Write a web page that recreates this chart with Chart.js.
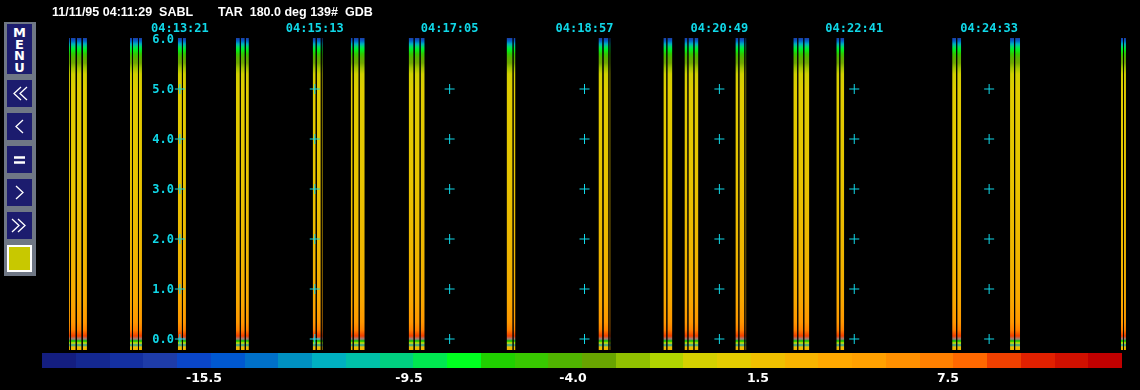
<!DOCTYPE html>
<html>
<head>
<meta charset="utf-8">
<script src="https://cdn.jsdelivr.net/npm/chart.js@4"></script>
<style>
  html, body { margin: 0; padding: 0; background: #000; }
  #wrap { position: relative; width: 1140px; height: 390px; overflow: hidden; background: #000; }
  #chartBox { position: absolute; left: 0; top: 0; width: 1140px; height: 390px; }
  .hdr { position: absolute; top: 5px; color: #fff; font: bold 12.5px 'Liberation Sans', Arial, sans-serif; white-space: pre; }
  #menu { position: absolute; left: 4px; top: 22px; width: 32px; height: 254px; background: #6f7785; }
  .btn { position: absolute; left: 3px; width: 25px; background: #1c1c6e; }
  .btn svg { position: absolute; left: 0; top: 0; }
  #menuTxt { color: #fff; font: bold 13px 'DejaVu Sans', sans-serif; text-align: center; line-height: 11.5px; padding-top: 3px; }
  #swatch { position: absolute; left: 3px; top: 223px; width: 21px; height: 23px; background: #c8c800; border: 2px solid #fff; }
  #colorBar { position: absolute; left: 42px; top: 353px; height: 15px; display: flex; }
  #colorBar div { height: 15px; }
  .cbl { position: absolute; top: 370px; color: #fff; font: bold 12.5px 'DejaVu Sans', sans-serif; transform: translateX(-50%); }
</style>
</head>
<body>
<div id="wrap">
  <div id="chartBox"><canvas id="rhiChart"></canvas></div>
  <div class="hdr" style="left:52px">11/11/95 04:11:29  SABL</div>
  <div class="hdr" style="left:218px">TAR  180.0 deg 139#  GDB</div>
  <div id="menu"></div>
  <div id="colorBar"></div>
</div>
<script>
// time-height stripes, seconds since 04:11:29
const SPAN_SECONDS = 904.3;
const markTimes = [112, 224, 336, 448, 560, 672, 784];
const markLabels = ['04:13:21', '04:15:13', '04:17:05', '04:18:57', '04:20:49', '04:22:41', '04:24:33'];
const heightTicks = [0, 1, 2, 3, 4, 5, 6];
const heightLabels = ['0.0', '1.0', '2.0', '3.0', '4.0', '5.0', '6.0'];
const crossHeights = [0, 1, 2, 3, 4, 5];

// each beam: start / end second
const beamStart = [19.9, 21.6, 26.5, 31.5, 70.5, 73.0, 78.0, 110.3, 114.5, 158.5, 162.6, 166.8,
  222.3, 225.7, 229.8, 253.9, 256.4, 261.3, 302.0, 307.0, 311.9, 383.3, 389.1,
  459.6, 463.8, 468.7, 513.5, 516.8, 531.0, 534.3, 539.3, 573.3, 576.6, 581.6,
  621.4, 625.5, 630.5, 657.1, 660.4, 753.3, 757.5, 801.4, 805.6, 893.5, 896.0];
const beamEnd = [20.7, 25.5, 30.4, 34.8, 72.2, 77.2, 80.5, 113.7, 117.0, 161.8, 165.9, 169.3,
  224.8, 229.0, 230.6, 255.5, 260.5, 265.5, 306.1, 311.1, 315.3, 388.3, 390.7,
  462.9, 467.9, 469.6, 516.0, 521.0, 533.5, 538.5, 542.6, 575.8, 580.8, 582.4,
  624.7, 629.7, 634.7, 659.6, 663.7, 756.6, 760.8, 804.7, 809.7, 895.2, 897.6];
const BEAM_TOP = 6.02;
const BEAM_BOTTOM = -0.22;

// reflectivity colour along the beam, by height (km)
const stopHeights = [6.02, 5.96, 5.9, 5.84, 5.78, 5.7, 5.62, 5.52, 5.42, 5.3, 4.98, 3.18, 1.58, 0.78, 0.34, 0.18, 0.06, 0.0, -0.04, -0.08, -0.12, -0.16, -0.22];
const stopColors = ['#1e3ca8', '#0064c8', '#00b0c0', '#00e060', '#00f020', '#30c800', '#58b000', '#70a800', '#a0c400', '#d0d000', '#e0cc00', '#e8c400', '#f0b400', '#f8a800', '#ff9800', '#ff8000', '#f04000', '#a08080', '#00c000', '#e0e000', '#20a0a0', '#f0c000', '#f0b000'];

// dBZ colour scale
const dbzColors = ['#141e80', '#142890', '#1430a0', '#1e3ca8', '#0a46c8', '#0058d0', '#0070c8', '#0090c0',
  '#00b0c0', '#00c0a8', '#00d080', '#00e850', '#00ff20', '#20d000', '#38c800', '#50b400',
  '#68a400', '#90c000', '#b0d400', '#d4d000', '#e4cc00', '#f0c000', '#f8b400', '#ffa800',
  '#ffa000', '#ff9000', '#ff8000', '#ff6800', '#f04000', '#e02000', '#d01000', '#c00000'];
const dbzLabels = ['-15.5', '-9.5', '-4.0', '1.5', '7.5'];
const dbzLabelX = [204, 409, 573, 758, 948];

const CYAN = '#10d8e8';

// colour bar
const bar = document.getElementById('colorBar');
dbzColors.forEach(c => {
  const d = document.createElement('div');
  d.style.width = (1080 / dbzColors.length) + 'px';
  d.style.background = c;
  bar.appendChild(d);
});
dbzLabels.forEach((t, i) => {
  const s = document.createElement('div');
  s.className = 'cbl';
  s.style.left = dbzLabelX[i] + 'px';
  s.textContent = t;
  document.getElementById('wrap').appendChild(s);
});

// side menu
const menu = document.getElementById('menu');
const icons = [
  '<polyline points="14,7 7,13.5 14,20" /><polyline points="20,7 13,13.5 20,20" />',
  '<polyline points="16,7 9,13.5 16,20" />',
  '<line x1="7" y1="11.5" x2="18" y2="11.5" /><line x1="7" y1="16.5" x2="18" y2="16.5" />',
  '<polyline points="9,7 16,13.5 9,20" />',
  '<polyline points="5,7 12,13.5 5,20" /><polyline points="11,7 18,13.5 11,20" />'
];
let m = document.createElement('div');
m.className = 'btn';
m.style.top = '2px'; m.style.height = '50px';
m.innerHTML = '<div id="menuTxt">M<br>E<br>N<br>U</div>';
menu.appendChild(m);
icons.forEach((ic, i) => {
  const b = document.createElement('div');
  b.className = 'btn';
  b.style.top = (58 + i * 33) + 'px';
  b.style.height = '27px';
  b.innerHTML = '<svg width="25" height="27" fill="none" stroke="#fff" stroke-width="' + (i === 2 ? 2.5 : 1.3) + '">' + ic + '</svg>';
  menu.appendChild(b);
});
const sw = document.createElement('div');
sw.id = 'swatch';
menu.appendChild(sw);

let gradCache = null;
function beamFill(context) {
  const chart = context.chart;
  const area = chart.chartArea;
  if (!area) return '#e8c400';
  if (gradCache) return gradCache;
  const ys = chart.scales.y;
  const y0 = ys.getPixelForValue(BEAM_TOP);
  const y1 = ys.getPixelForValue(BEAM_BOTTOM);
  const g = chart.ctx.createLinearGradient(0, y0, 0, y1);
  stopHeights.forEach((h, i) => {
    const f = (ys.getPixelForValue(h) - y0) / (y1 - y0);
    g.addColorStop(Math.min(1, Math.max(0, f)), stopColors[i]);
  });
  gradCache = g;
  return g;
}

const crossPts = [];
markTimes.forEach(t => crossHeights.forEach(h => crossPts.push({ x: t, y: h })));

const datasets = [{
  type: 'scatter',
  data: crossPts,
  pointStyle: 'cross',
  pointRadius: 5,
  borderColor: CYAN,
  borderWidth: 1,
  showLine: false
}];
beamStart.forEach((s, i) => {
  datasets.push({
    type: 'line',
    data: [{ x: s, y: BEAM_TOP }, { x: beamEnd[i], y: BEAM_TOP }],
    borderColor: 'transparent',
    borderWidth: 0,
    pointRadius: 0,
    fill: { value: BEAM_BOTTOM },
    backgroundColor: beamFill
  });
});

const labelPlugin = {
  id: 'labelPlugin',
  afterDatasetsDraw(chart) {
    const ctx = chart.ctx;
    const xs = chart.scales.x, ys = chart.scales.y;
    ctx.save();
    ctx.fillStyle = CYAN;
    ctx.font = 'bold 12px "DejaVu Sans Mono", monospace';
    ctx.textBaseline = 'middle';
    ctx.textAlign = 'center';
    markTimes.forEach((t, i) => ctx.fillText(markLabels[i], xs.getPixelForValue(t), 29));
    ctx.textAlign = 'right';
    const lx = xs.getPixelForValue(markTimes[0]) - 6;
    heightTicks.forEach((h, i) => ctx.fillText(heightLabels[i], lx, ys.getPixelForValue(h) + 1));
    ctx.restore();
  }
};

new Chart(document.getElementById('rhiChart'), {
  type: 'line',
  data: { datasets },
  options: {
    responsive: true,
    maintainAspectRatio: false,
    animation: false,
    events: [],
    layout: { padding: { left: 45, right: 5, top: 38, bottom: 40 } },
    plugins: { legend: { display: false }, tooltip: { enabled: false }, title: { display: false } },
    scales: {
      x: { type: 'linear', min: 0, max: SPAN_SECONDS, display: false },
      y: { type: 'linear', min: BEAM_BOTTOM, max: BEAM_TOP, display: false }
    }
  },
  plugins: [labelPlugin]
});
</script>
</body>
</html>
